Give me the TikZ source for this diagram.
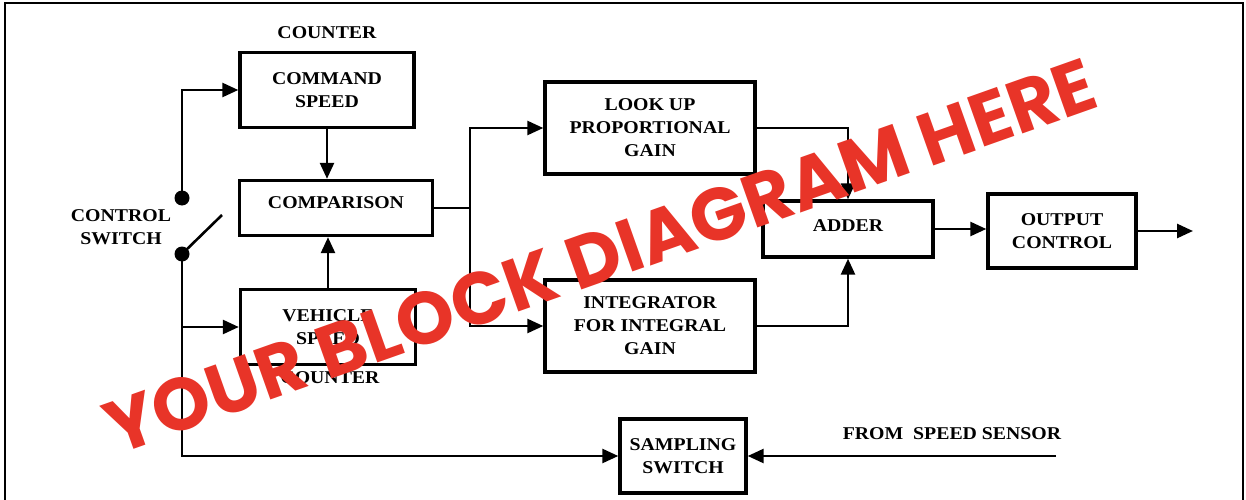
\documentclass[tikz,border=0pt]{standalone}
\usepackage{fontspec}
\setmainfont{Liberation Serif}[FakeStretch=1.1]
\newfontfamily\wmfont{Poppins}
\usetikzlibrary{arrows.meta}
\definecolor{wmred}{RGB}{232,52,40}
\newcommand\lblfont{\bfseries\fontsize{18}{23}\selectfont}
\begin{document}
\begin{tikzpicture}[x=1pt,y=-1pt,
  blk/.style={draw, line width=3.4pt, inner sep=0pt, align=center, font=\lblfont},
  lbl/.style={inner sep=0pt, align=center, font=\lblfont},
  ln/.style={line width=2.6pt},
  dot/.style={circle, fill=black, inner sep=0pt, minimum size=15pt},
  >={Triangle[length=16pt,width=14pt]}]
\useasboundingbox (0,0) rectangle (1246,500);
\draw[line width=2pt] (5,502) -- (5,3) -- (1243,3) -- (1243,502);

\node[blk, minimum width=174pt, minimum height=75pt] (cmd) at (327,90) {COMMAND\\SPEED};
\node[lbl] (ctop) at (327,33) {COUNTER};
\node[blk, minimum width=193pt, minimum height=55pt, text height=12pt, text depth=12pt] (cmp) at (336,208) {COMPARISON};
\node[blk, minimum width=175pt, minimum height=75pt] (veh) at (328,327) {VEHICLE\\SPEED};
\node[lbl] (cbot) at (330,378) {COUNTER};
\node[blk, minimum width=210pt, minimum height=92pt] (look) at (650,128) {LOOK UP\\PROPORTIONAL\\GAIN};
\node[blk, minimum width=210pt, minimum height=92pt] (integ) at (650,326) {INTEGRATOR\\FOR INTEGRAL\\GAIN};
\node[blk, minimum width=170pt, minimum height=56pt, text height=12pt, text depth=8pt] (add) at (848,229) {ADDER};
\node[blk, minimum width=148pt, minimum height=74pt] (out) at (1062,231) {OUTPUT\\CONTROL};
\node[blk, minimum width=126pt, minimum height=74pt] (samp) at (683,456) {SAMPLING\\SWITCH};
\node[lbl] (sens) at (952,434) {FROM\ \ SPEED SENSOR};
\node[lbl] (csw) at (121,227) {CONTROL\\SWITCH};

\node[dot] (d1) at (182,198) {};
\node[dot] (d2) at (182,254) {};
\coordinate (blade) at (222,215);
\draw[ln] (d2.center) -- (blade);
\draw[ln,->] (d1.center) |- (cmd.west);
\draw[ln,->] (d2.center) |- (samp.west);
\draw[ln,->] (d2.center |- veh.west) -- (veh.west);
\draw[ln,->] (cmd.south) -- (cmd.south |- cmp.north);
\draw[ln,->] (veh.north) -- (veh.north |- cmp.south);
\coordinate (j) at (470,208);
\draw[ln] (cmp.east) -- (j);
\draw[ln,->] (j) |- (look.west);
\draw[ln,->] (j) |- (integ.west);
\draw[ln,->] (look.east) -| (add.north);
\draw[ln,->] (integ.east) -| (add.south);
\draw[ln,->] (add.east) -- (add.east -| out.west);
\coordinate (outend) at (1193,231);
\draw[ln,->] (out.east) -- (outend);
\coordinate (sens0) at (1056,456);
\draw[ln,->] (sens0) -- (samp.east);

\node[rotate=19.5, text=wmred, inner sep=0pt, font=\wmfont\bfseries\fontsize{74}{74}\selectfont] (wm) at (600,256) {YOUR BLOCK DIAGRAM HERE};
\end{tikzpicture}
\end{document}
